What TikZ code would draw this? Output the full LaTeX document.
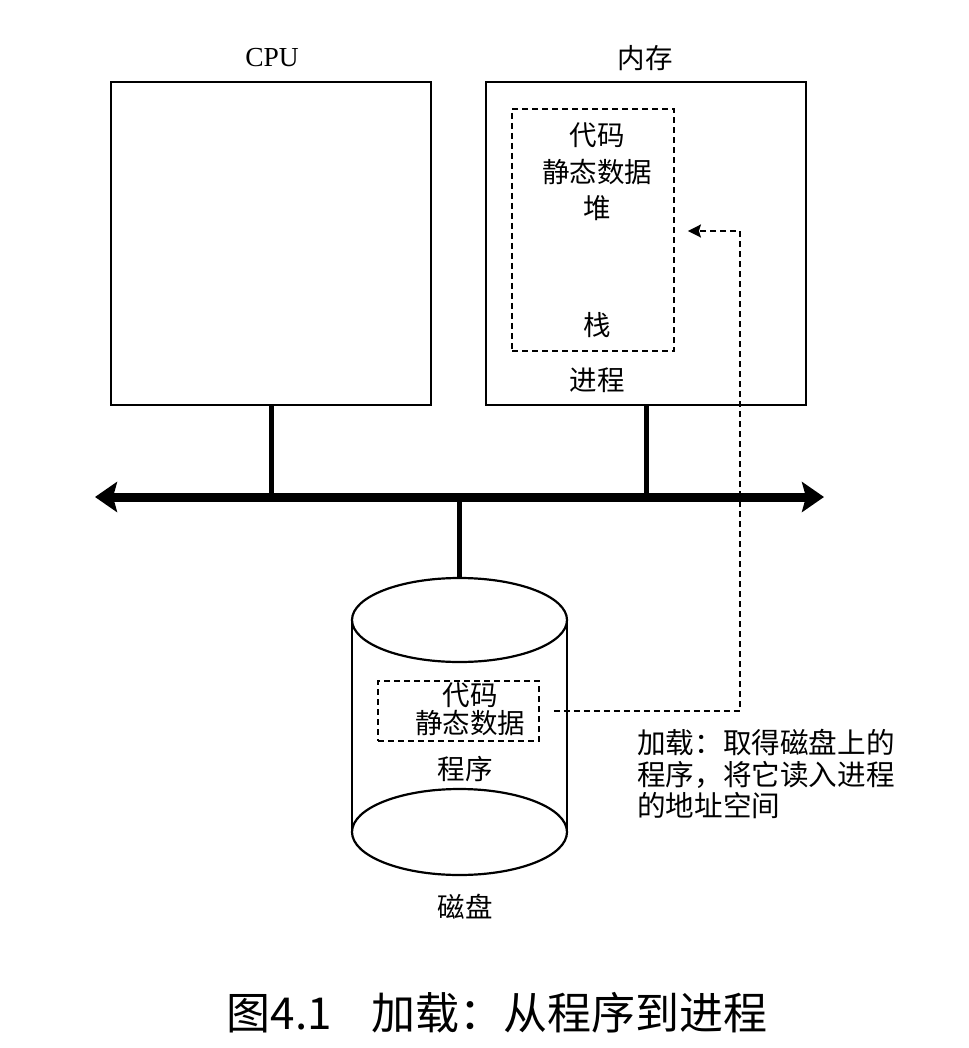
\documentclass[tikz,border=0pt]{standalone}
\usepackage{fontspec}
\setmainfont{Liberation Serif}
\newfontfamily\cjk{Noto Sans CJK SC}
\usetikzlibrary{arrows.meta,calc}
\begin{document}
\begin{tikzpicture}[x=1pt,y=-1pt,
  box/.style={draw,line width=2.2pt,minimum width=320pt,minimum height=323pt,inner sep=0pt},
  dbox/.style={draw,dashed,line width=1.8pt,dash pattern=on 6pt off 4pt,inner sep=0pt},
  lbl/.style={font=\cjk\fontsize{27.5}{30}\selectfont,inner sep=0pt},
  conn/.style={line width=5pt},
  bus/.style={line width=9pt,{Stealth[length=22pt,width=30pt,inset=4pt]}-{Stealth[length=22pt,width=30pt,inset=4pt]}},
  load/.style={line width=1.8pt,dash pattern=on 6pt off 4pt,-{Stealth[length=13pt,width=13pt,inset=2pt]}}
]
\useasboundingbox (0,0) rectangle (968,1048);
% boxes
\node[box] (cpu) at (271,243.5) {};
\node[box] (mem) at (646,243.5) {};
\node[font=\fontsize{27.5}{30}\selectfont,inner sep=0pt] (cpul) at (272,58) {CPU};
\node[lbl] (meml) at (645,58) {内存};
% process dashed box
\node[dbox,minimum width=162pt,minimum height=242pt] (proc) at (593,230) {};
\node[lbl] (t1) at (597,135) {代码};
\node[lbl] (t2) at (597,172) {静态数据};
\node[lbl] (t3) at (597,208) {堆};
\node[lbl] (t4) at (597,325) {栈};
\node[lbl] (t5) at (597,380) {进程};
% bus
\coordinate (busL) at (95,497);
\coordinate (busR) at (824,497);
\draw[bus] (busL) -- (busR);
\draw[conn] (cpu.south) -- (cpu.south |- busL);
\draw[conn] (mem.south) -- (mem.south |- busL);
% disk
\coordinate (disktop) at (459.5,578);
\draw[conn] (disktop) -- (disktop |- busL);
\draw[line width=2.2pt] (459.5,620) ellipse (107.5pt and 42pt);
\draw[line width=2.2pt] (352,620) -- (352,832);
\draw[line width=2.2pt] (567,620) -- (567,832);
\draw[line width=2.2pt] (459.5,832) ellipse (107.5pt and 43pt);
\node[dbox,minimum width=161pt,minimum height=60pt] (dbx) at (458.5,711) {};
\node[lbl] (d1) at (470,695) {代码};
\node[lbl] (d2) at (470,723) {静态数据};
\node[lbl] (d3) at (465,769) {程序};
\node[lbl] (d4) at (465,907) {磁盘};
% load arrow
\coordinate (turn) at (740,231);
\draw[load,shorten <=14pt] (dbx.east) -| (turn) -- ($(proc.east |- turn)+(13,0)$);
\node[lbl,anchor=north west,align=left,font=\cjk\fontsize{28.6}{31.5}\selectfont] (note) at (637,729) {加载：取得磁盘上的\\程序，将它读入进程\\的地址空间};
% caption
\node[font=\cjk\fontsize{44}{48}\selectfont,inner sep=0pt] (cap) at (497,1013) {图4.1\hspace{0.9em}加载：从程序到进程};
\end{tikzpicture}
\end{document}
